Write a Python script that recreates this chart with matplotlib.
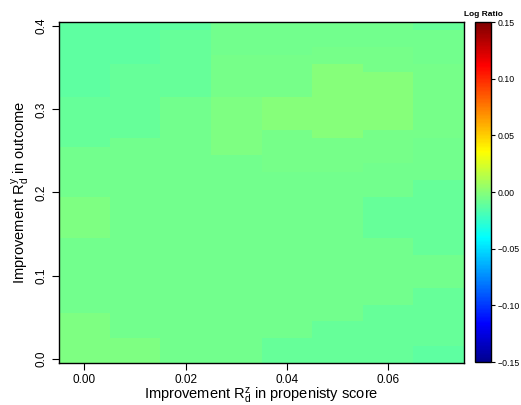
import numpy as np
import matplotlib
matplotlib.use("Agg")
import matplotlib.pyplot as plt
from matplotlib.colors import LinearSegmentedColormap, Normalize
from matplotlib.cm import ScalarMappable

plt.rcParams["font.family"] = ["Liberation Sans", "DejaVu Sans"]
plt.rcParams["mathtext.fontset"] = "custom"
plt.rcParams["mathtext.rm"] = "Liberation Sans"
plt.rcParams["mathtext.it"] = "Liberation Sans:italic"

# fields::tim.colors(64)
tim_colors = [
    "#00008F", "#00009F", "#0000AF", "#0000BF", "#0000CF", "#0000DF", "#0000EF", "#0000FF",
    "#0010FF", "#0020FF", "#0030FF", "#0040FF", "#0050FF", "#0060FF", "#0070FF", "#0080FF",
    "#008FFF", "#009FFF", "#00AFFF", "#00BFFF", "#00CFFF", "#00DFFF", "#00EFFF", "#00FFFF",
    "#10FFEF", "#20FFDF", "#30FFCF", "#40FFBF", "#50FFAF", "#60FF9F", "#70FF8F", "#80FF80",
    "#8FFF70", "#9FFF60", "#AFFF50", "#BFFF40", "#CFFF30", "#DFFF20", "#EFFF10", "#FFFF00",
    "#FFEF00", "#FFDF00", "#FFCF00", "#FFBF00", "#FFAF00", "#FF9F00", "#FF8F00", "#FF8000",
    "#FF7000", "#FF6000", "#FF5000", "#FF4000", "#FF3000", "#FF2000", "#FF1000", "#FF0000",
    "#EF0000", "#DF0000", "#CF0000", "#BF0000", "#AF0000", "#9F0000", "#8F0000", "#800000",
]

# grid: improvement in propensity score (x) and in outcome (y)
r2_z = [0.00, 0.01, 0.02, 0.03, 0.04, 0.05, 0.06, 0.07]
r2_y = [round(0.01 * i, 2) for i in range(41)]

# log ratio per column, written as (value, number of rows) from y = 0 upward
log_ratio_runs = [
    [(-0.0030, 6), (-0.0068, 9), (-0.0030, 5), (-0.0068, 6), (-0.0095, 6), (-0.0120, 9)],
    [(-0.0030, 3), (-0.0068, 24), (-0.0095, 9), (-0.0120, 5)],
    [(-0.0068, 32), (-0.0095, 8), (-0.0120, 1)],
    [(-0.0068, 25), (-0.0030, 7), (-0.0048, 5), (-0.0068, 4)],
    [(-0.0095, 3), (-0.0068, 20), (-0.0048, 5), (-0.0010, 4), (-0.0048, 5), (-0.0068, 4)],
    [(-0.0095, 5), (-0.0068, 18), (-0.0048, 4), (-0.0010, 9), (-0.0048, 2), (-0.0068, 3)],
    [(-0.0095, 7), (-0.0068, 8), (-0.0095, 5), (-0.0068, 4), (-0.0048, 4), (-0.0010, 7),
     (-0.0048, 3), (-0.0068, 3)],
    [(-0.0120, 2), (-0.0095, 7), (-0.0068, 4), (-0.0095, 9), (-0.0068, 5), (-0.0048, 9),
     (-0.0068, 4), (-0.0095, 1)],
]

zlim = (-0.15, 0.15)
cbar_ticks = [-0.15, -0.10, -0.05, 0.00, 0.05, 0.10, 0.15]

columns = []
for runs in log_ratio_runs:
    col = []
    for val, n in runs:
        col += [val] * n
    columns.append(col)
Z = np.array(columns).T  # rows = y, cols = x

cmap = LinearSegmentedColormap.from_list("tim", tim_colors, N=256)
norm = Normalize(*zlim)

fig = plt.figure(figsize=(5.21, 4.05), dpi=100)
W, H = 521, 405
ax = fig.add_axes([59 / W, 1 - 363 / H, 405 / W, 341 / H])
ax.pcolormesh(r2_z, r2_y, Z, cmap=cmap, norm=norm, shading="nearest")
ax.set_xlim(-0.005, 0.075)
ax.set_ylim(-0.005, 0.405)

ax.set_xticks([0.00, 0.02, 0.04, 0.06])
ax.set_xticklabels(["0.00", "0.02", "0.04", "0.06"])
ax.set_yticks([0.0, 0.1, 0.2, 0.3, 0.4])
ax.set_yticklabels(["0.0", "0.1", "0.2", "0.3", "0.4"], rotation=90, va="center")
ax.tick_params(length=5, width=0.8, labelsize=8.5, pad=3)
for s in ax.spines.values():
    s.set_linewidth(1.0)

ax.set_xlabel(r"Improvement $\mathrm{R}_\mathrm{d}^\mathrm{z}$ in propenisty score",
              fontsize=10.5, labelpad=0)
ax.set_ylabel(r"Improvement $\mathrm{R}_\mathrm{d}^\mathrm{y}$ in outcome",
              fontsize=10.5, labelpad=3)

cax = fig.add_axes([475 / W, 1 - 362 / H, 16 / W, 340 / H])
sm = ScalarMappable(norm=norm, cmap=cmap)
cb = fig.colorbar(sm, cax=cax, ticks=cbar_ticks)
cb.ax.set_yticklabels([f"{t:.2f}".replace("-", "\u2212") for t in cbar_ticks])
cb.ax.tick_params(length=3, width=0.8, labelsize=6.3, pad=2)
cb.outline.set_linewidth(1.0)
cax.set_title("Log Ratio", fontsize=6, fontweight="bold", pad=4)

fig.savefig("out.png", dpi=100)
